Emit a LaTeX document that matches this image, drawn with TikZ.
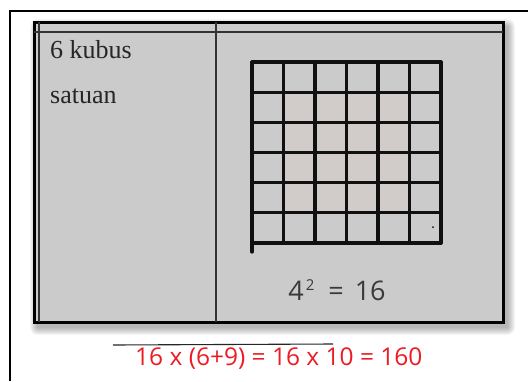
\documentclass[tikz,border=0pt]{standalone}
\usepackage{fontspec}
\setmainfont{Liberation Serif}
\newfontfamily\handfont{Open Sans}
\usetikzlibrary{positioning,calc}
\definecolor{phGray}{HTML}{CBCBCB}
\definecolor{phShade}{HTML}{D1CBCA}
\definecolor{phInk}{HTML}{101010}
\definecolor{phRed}{HTML}{EC1C24}
\definecolor{phPencil}{HTML}{3A3A3A}
\tikzset{
  frameline/.style={line width=2pt, black},
  photo/.style={draw=black, line width=3pt, fill=phGray},
  ruling/.style={line width=1.2pt, black!80},
  gridline/.style={line width=3.2pt, phInk, line cap=round},
  printed/.style={font=\fontsize{26}{28}\selectfont, text=black!85, anchor=base west, inner sep=0pt},
  pencil/.style={font=\handfont\fontsize{27}{30}\selectfont, text=phPencil, inner sep=0pt, anchor=base},
  marker/.style={font=\handfont\fontsize{24.5}{28}\selectfont, text=phRed, inner sep=0pt, anchor=base west}
}
\begin{document}
\begin{tikzpicture}[x=1pt, y=-1pt]
  \useasboundingbox (0,0) rectangle (528,381);
  \fill[white] (0,0) rectangle (528,381);

  % page frame
  \draw[frameline] (10,381) -- (10,11) -- (528,11);

  % soft shadow of the photo
  \foreach \k in {1,...,8}
    \fill[black, opacity=0.04, rounded corners=\k pt]
      ({38-\k},{27-\k}) rectangle ({507+\k},{327+\k});

  % the photo with its table
  \draw[photo] (34,22) rectangle (503,322);
  \draw[ruling] (34,32) -- (503,32);
  \draw[ruling] (39,22) -- (39,322);
  \draw[ruling] (216,22) -- (216,322);

  \node[printed] (kubus) at (50,58) {6 kubus};
  \node[printed] (satuan) at (50,103) {satuan};

  % shaded inner squares
  \fill[phShade] (283.5,91) rectangle (409.5,214);

  % 6 x 6 grid
  \foreach \i in {1,...,6}
    \draw[gridline] ({252+31.5*\i},62) -- ({252+31.5*\i},243);
  \draw[gridline] (252,62) -- (252,252);
  \foreach \j in {0,...,6}
    \draw[gridline] (252,{62+30.17*\j}) -- (441,{62+30.17*\j});
  \fill[phInk] (433,227) circle (1);

  \node[pencil] (square) at (337,300)
    {4\hspace{2pt}\raisebox{10pt}{\fontsize{15}{15}\selectfont 2}\hspace{14pt}=\hspace{11pt}16};

  % working below the photo
  \draw[line width=1.1pt, black!85] (113,345) -- (333,344);
  \node[marker] (sum) at (135,365) {16 x (6+9) = 16 x 10 = 160};
\end{tikzpicture}
\end{document}
